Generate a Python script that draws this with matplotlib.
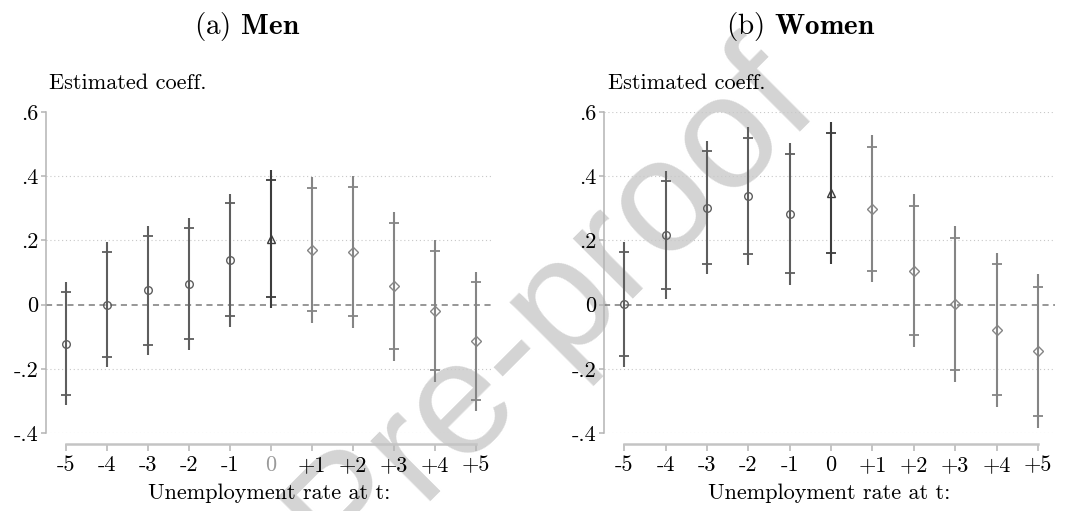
import numpy as np
import matplotlib
matplotlib.use('Agg')
import matplotlib.pyplot as plt

plt.rcParams['font.family'] = ['cmr10', 'DejaVu Serif']
plt.rcParams['mathtext.fontset'] = 'cm'
plt.rcParams['axes.unicode_minus'] = False

# event time (years around the unemployment shock)
periods = ['-5', '-4', '-3', '-2', '-1', '0', '+1', '+2', '+3', '+4', '+5']
ytick_vals = [-0.4, -0.2, 0, 0.2, 0.4, 0.6]
ytick_labels = ['-.4', '-.2', '0', '.2', '.4', '.6']

# men: point estimate, inner ci (ticks), outer ci (line ends)
men_coef = [-0.123, 0.000, 0.044, 0.064, 0.138, 0.204, 0.170, 0.165, 0.057, -0.020, -0.114]
men_hi95 = [0.069, 0.195, 0.246, 0.270, 0.346, 0.420, 0.397, 0.401, 0.290, 0.200, 0.102]
men_hi90 = [0.040, 0.165, 0.215, 0.238, 0.315, 0.388, 0.362, 0.365, 0.255, 0.167, 0.069]
men_lo90 = [-0.282, -0.163, -0.125, -0.108, -0.036, 0.024, -0.019, -0.034, -0.138, -0.205, -0.296]
men_lo95 = [-0.312, -0.195, -0.158, -0.141, -0.070, -0.010, -0.056, -0.073, -0.176, -0.242, -0.330]

# women
wom_coef = [0.002, 0.217, 0.302, 0.338, 0.282, 0.347, 0.298, 0.106, 0.002, -0.079, -0.144]
wom_hi95 = [0.194, 0.417, 0.510, 0.552, 0.503, 0.569, 0.527, 0.346, 0.245, 0.161, 0.094]
wom_hi90 = [0.165, 0.386, 0.477, 0.518, 0.469, 0.534, 0.490, 0.308, 0.207, 0.125, 0.056]
wom_lo90 = [-0.160, 0.048, 0.128, 0.157, 0.097, 0.160, 0.105, -0.095, -0.203, -0.281, -0.346]
wom_lo95 = [-0.193, 0.017, 0.096, 0.124, 0.061, 0.125, 0.069, -0.132, -0.242, -0.319, -0.383]

PRE_C, ZERO_C, POST_C = '#5e5e5e', '#3c3c3c', '#858585'
AX_C = '#b4b4b4'
FS = 16


def draw_panel(ax, coef, lo95, hi95, lo90, hi90, grid_levels, grey_zero):
    x = np.arange(-5, 6)
    for i, xi in enumerate(x):
        if xi < 0:
            c, m, ms = PRE_C, 'o', 5.5
        elif xi == 0:
            c, m, ms = ZERO_C, '^', 6
        else:
            c, m, ms = POST_C, 'D', 5
        ax.plot([xi, xi], [lo95[i], hi95[i]], color=c, lw=1.5, solid_capstyle='butt', zorder=3)
        ax.plot([xi, xi], [lo90[i], hi90[i]], ls='none', marker='_', ms=7, mew=1.3, color=c, zorder=3)
        ax.plot(xi, coef[i], ls='none', marker=m, ms=ms, mfc='none', mec=c, mew=1.0, zorder=4)

    for g in grid_levels:
        ax.axhline(g, color='#c8c8c8', lw=0.8, ls=(0, (1, 2.5)), zorder=1)
    ax.axhline(0, color='#7a7a7a', lw=1.1, ls=(0, (4, 3)), zorder=2)

    ax.set_xlim(-5.49, 5.41)
    ax.set_ylim(-0.4, 0.6)
    ax.set_facecolor('none')
    ax.spines['top'].set_visible(False)
    ax.spines['right'].set_visible(False)
    ax.spines['left'].set_color(AX_C)
    ax.spines['left'].set_linewidth(1.1)
    ax.spines['bottom'].set_color('#c4c4c4')
    ax.spines['bottom'].set_linewidth(1.8)
    ax.spines['bottom'].set_position(('outward', 8))
    ax.spines['bottom'].set_bounds(-5, 5)

    ax.set_xticks(x)
    ax.set_xticklabels(periods, fontsize=FS)
    ax.set_yticks(ytick_vals)
    ax.set_yticklabels(ytick_labels, fontsize=FS)
    ax.tick_params(axis='x', length=5, width=1.1, color=AX_C, pad=3)
    ax.tick_params(axis='y', length=3.5, width=1.1, color=AX_C, pad=2)
    if grey_zero:
        ax.get_xticklabels()[5].set_color('#9a9a9a')
    ax.set_xlabel('Unemployment rate at t:', fontsize=FS, labelpad=6)


fig = plt.figure(figsize=(10.65, 5.11), dpi=100)

# watermark behind the panels
fig.text(0.772, 0.785, 'Journal Pre-proof', fontsize=116, family='Liberation Sans',
         color='#d4d4d4', rotation=45, rotation_mode='anchor',
         ha='right', va='baseline', zorder=-5)

ax1 = fig.add_axes([0.0432, 0.1526, 0.4197, 0.6282])
ax2 = fig.add_axes([0.5671, 0.1526, 0.4234, 0.6282])

draw_panel(ax1, men_coef, men_lo95, men_hi95, men_lo90, men_hi90, [0.4, 0.2, -0.2, -0.4], True)
draw_panel(ax2, wom_coef, wom_lo95, wom_hi95, wom_lo90, wom_hi90, [0.6, 0.4, 0.2, -0.2, -0.4], False)

fig.text(0.046, 0.837, 'Estimated coeff.', fontsize=FS, ha='left', va='center')
fig.text(0.571, 0.837, 'Estimated coeff.', fontsize=FS, ha='left', va='center')

fig.text(0.232, 0.948, r'(a) $\mathbf{Men}$', fontsize=21, ha='center', va='center')
fig.text(0.752, 0.948, r'(b) $\mathbf{Women}$', fontsize=21, ha='center', va='center')

plt.savefig('out.png', dpi=100)
